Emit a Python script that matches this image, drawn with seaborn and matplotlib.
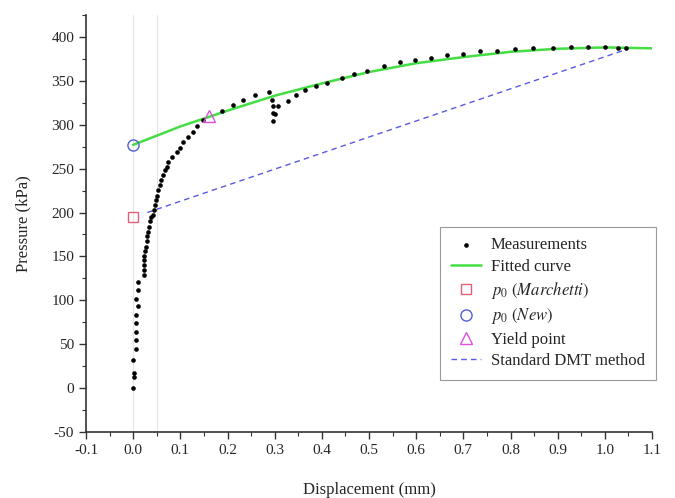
import matplotlib
matplotlib.use("Agg")
import matplotlib.pyplot as plt
from matplotlib.ticker import MultipleLocator
import numpy as np
import pandas as pd
import seaborn as sns

meas_x = [0.000, 0.002, 0.002, 0.000, 0.005, 0.007, 0.005, 0.007, 0.007, 0.010,
          0.005, 0.011, 0.010, 0.022, 0.022, 0.022, 0.023, 0.024, 0.025, 0.027,
          0.029, 0.030, 0.032, 0.034, 0.036, 0.038, 0.041, 0.044, 0.046, 0.048,
          0.050, 0.053, 0.057, 0.060, 0.064, 0.067, 0.071, 0.074, 0.082, 0.092,
          0.099, 0.106, 0.117, 0.127, 0.135, 0.147, 0.188, 0.211, 0.232, 0.258,
          0.287, 0.294, 0.296, 0.297, 0.296, 0.300, 0.308, 0.329, 0.345, 0.364,
          0.388, 0.410, 0.442, 0.468, 0.495, 0.532, 0.566, 0.597, 0.631, 0.665,
          0.699, 0.735, 0.771, 0.809, 0.848, 0.891, 0.928, 0.965, 1.000, 1.028,
          1.045]
meas_y = [0, 13, 17, 32, 45, 55, 64, 74, 83, 93,
          101, 112, 121, 129, 135, 140, 146, 151, 156, 161,
          167, 173, 178, 184, 190, 195, 197, 203, 209, 214,
          219, 226, 231, 237, 243, 248, 252, 257, 263, 269,
          274, 280, 286, 292, 298, 305, 316, 323, 328, 334,
          337, 328, 321, 313, 304, 312, 321, 327, 334, 340,
          344, 347, 353, 358, 361, 367, 371, 374, 376, 379,
          381, 384, 384, 386, 387, 387, 388, 388, 388, 387,
          387]

# Fitted curve
fit_x = [0.0, 0.1, 0.2, 0.3, 0.4, 0.5, 0.6, 0.7, 0.8, 0.9, 1.0, 1.1]
fit_y = [277, 298, 316, 333, 347, 360, 370, 377, 383, 386.5, 388, 387]

# Standard DMT method line
dmt_x = [0.03, 1.047]
dmt_y = [200, 386]

# Characteristic points
p0_marchetti = (0.0, 195)
p0_new = (0.0, 277)
yield_pt = (0.16, 310)

sns.set_style("ticks")
plt.rcParams["font.family"] = ["Liberation Serif", "DejaVu Serif"]
plt.rcParams["mathtext.fontset"] = "stix"
plt.rcParams["axes.unicode_minus"] = False

fig = plt.figure(figsize=(6.75, 4.98), dpi=100)
ax = fig.add_axes([0.1274, 0.1325, 0.8386, 0.8375])

# faint reference lines
ax.axvline(0.0, color="#e4e4e4", lw=0.8, zorder=0)
ax.axvline(0.05, color="#e4e4e4", lw=0.8, zorder=0)

meas = pd.DataFrame({"x": meas_x, "y": meas_y})
fit = pd.DataFrame({"x": fit_x, "y": fit_y})
dmt = pd.DataFrame({"x": dmt_x, "y": dmt_y})

sns.lineplot(data=fit, x="x", y="y", ax=ax, color="#44dd44", lw=1.8,
             label="Fitted curve", zorder=2)
sns.scatterplot(data=meas, x="x", y="y", ax=ax, color="black", s=11,
                edgecolor="black", linewidth=0, label="Measurements", zorder=3)
ax.plot([p0_marchetti[0]], [p0_marchetti[1]], "s", ms=7, mfc="none",
        mec="#e0607a", mew=1.0, label=r"$p_0$ $\mathit{(Marchetti)}$", zorder=4)
ax.plot([p0_new[0]], [p0_new[1]], "o", ms=8, mfc="none",
        mec="#5060d0", mew=1.0, label=r"$p_0$ $\mathit{(New)}$", zorder=4)
ax.plot([yield_pt[0]], [yield_pt[1]], "^", ms=8, mfc="none",
        mec="#e050e0", mew=1.0, label="Yield point", zorder=4)
sns.lineplot(data=dmt, x="x", y="y", ax=ax, color="#5a5ae0", lw=1.0,
             linestyle=(0, (4, 3)), label="Standard DMT method", zorder=2)

ax.set_xlim(-0.1, 1.1)
ax.set_ylim(-50, 425)
ax.xaxis.set_minor_locator(MultipleLocator(0.05))
ax.yaxis.set_minor_locator(MultipleLocator(25))
ax.set_xticks(np.arange(-0.1, 1.101, 0.1))
ax.set_xticklabels([f"{v:.1f}" for v in np.arange(-0.1, 1.101, 0.1)])
ax.set_yticks(np.arange(-50, 401, 50))
ax.tick_params(axis="both", which="major", direction="out", length=5,
               width=1.0, labelsize=11, color="#333333")
ax.tick_params(axis="both", which="minor", direction="out", length=3,
               width=0.8, color="#333333")
for side in ["left", "bottom"]:
    ax.spines[side].set_linewidth(1.2)
    ax.spines[side].set_color("#333333")
sns.despine(ax=ax)

ax.set_xlabel("Displacement (mm)", fontsize=12, labelpad=18)
ax.set_ylabel("Pressure (kPa)", fontsize=12, labelpad=14)

handles, labels = ax.get_legend_handles_labels()
order = ["Measurements", "Fitted curve", r"$p_0$ $\mathit{(Marchetti)}$",
         r"$p_0$ $\mathit{(New)}$", "Yield point", "Standard DMT method"]
hmap = dict(zip(labels, handles))
leg = ax.legend([hmap[k] for k in order], order, loc="upper left",
                bbox_to_anchor=(0.652, 0.545), bbox_transform=fig.transFigure,
                fontsize=12, frameon=True, fancybox=False, framealpha=1,
                edgecolor="#999999", handlelength=1.8, handletextpad=0.6,
                labelspacing=0.32, borderpad=0.65, borderaxespad=0)
leg.get_frame().set_linewidth(0.8)

fig.savefig("out.png", dpi=100)
